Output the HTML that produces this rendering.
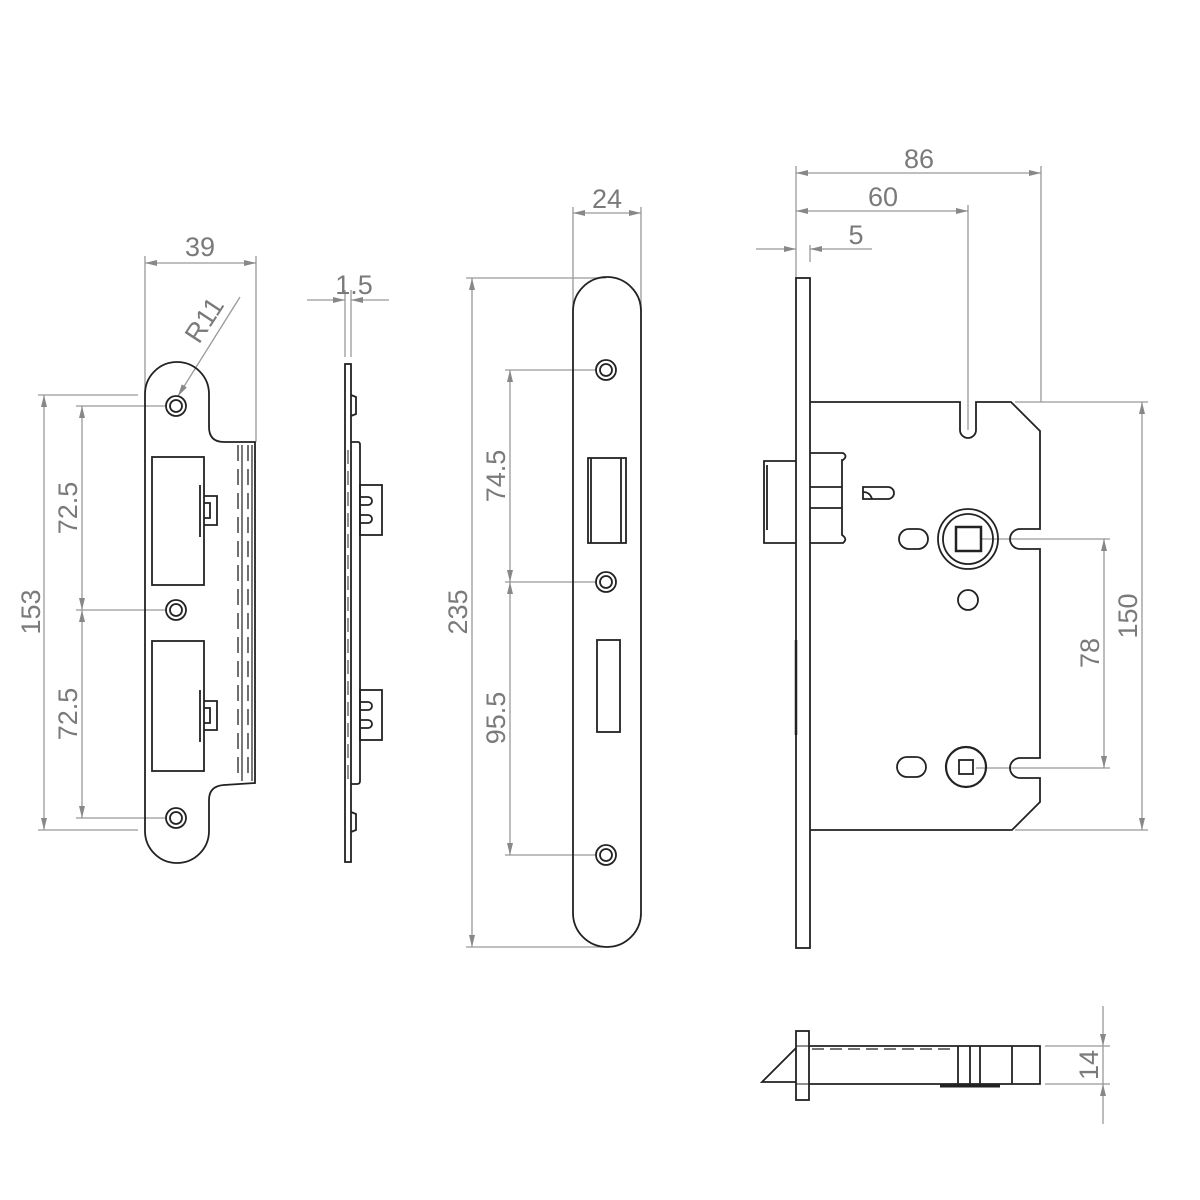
<!DOCTYPE html>
<html><head><style>body{margin:0;background:#fff}svg{display:block}</style></head><body>
<svg width="1200" height="1200" viewBox="0 0 1200 1200" xmlns="http://www.w3.org/2000/svg">
<defs>
<marker id="a" viewBox="0 0 12 6" refX="12" refY="3" markerWidth="12" markerHeight="6" orient="auto-start-reverse" markerUnits="userSpaceOnUse"><path d="M0,0 L12,3 L0,6z" fill="#888"/></marker>
</defs>
<g fill="none" stroke="#999" stroke-width="1.3">
<!-- 39 -->
<line x1="145" y1="256" x2="145" y2="392"/><line x1="256" y1="256" x2="256" y2="442"/>
<line x1="145" y1="263" x2="256" y2="263" marker-start="url(#a)" marker-end="url(#a)"/>
<line x1="178" y1="396" x2="240" y2="297" marker-start="url(#a)"/>
<!-- 153 / 72.5 -->
<line x1="38" y1="395" x2="138" y2="395"/><line x1="38" y1="830" x2="138" y2="830"/>
<line x1="44" y1="395" x2="44" y2="830" marker-start="url(#a)" marker-end="url(#a)"/>
<line x1="76" y1="406" x2="166" y2="406"/><line x1="76" y1="610" x2="166" y2="610"/><line x1="76" y1="818" x2="166" y2="818"/>
<line x1="82" y1="406" x2="82" y2="610" marker-start="url(#a)" marker-end="url(#a)"/>
<line x1="82" y1="610" x2="82" y2="818" marker-start="url(#a)" marker-end="url(#a)"/>
<!-- 1.5 -->
<line x1="345" y1="290" x2="345" y2="357"/><line x1="351" y1="290" x2="351" y2="357"/>
<line x1="307" y1="300" x2="345" y2="300" marker-end="url(#a)"/><line x1="389" y1="300" x2="351" y2="300" marker-end="url(#a)"/>
<!-- 24 / 235 -->
<line x1="573" y1="207" x2="573" y2="310"/><line x1="641" y1="207" x2="641" y2="310"/>
<line x1="573" y1="213" x2="641" y2="213" marker-start="url(#a)" marker-end="url(#a)"/>
<line x1="466" y1="278" x2="606" y2="278"/><line x1="466" y1="947" x2="606" y2="947"/>
<line x1="472" y1="278" x2="472" y2="947" marker-start="url(#a)" marker-end="url(#a)"/>
<line x1="505" y1="370" x2="596" y2="370"/><line x1="505" y1="582" x2="596" y2="582"/><line x1="505" y1="855" x2="596" y2="855"/>
<line x1="510" y1="370" x2="510" y2="582" marker-start="url(#a)" marker-end="url(#a)"/>
<line x1="510" y1="582" x2="510" y2="855" marker-start="url(#a)" marker-end="url(#a)"/>
<!-- 86 60 5 -->
<line x1="796" y1="166" x2="796" y2="278"/><line x1="1041" y1="166" x2="1041" y2="402"/><line x1="968" y1="205" x2="968" y2="430"/>
<line x1="810" y1="245" x2="810" y2="262"/>
<line x1="796" y1="173" x2="1041" y2="173" marker-start="url(#a)" marker-end="url(#a)"/>
<line x1="796" y1="211" x2="968" y2="211" marker-start="url(#a)" marker-end="url(#a)"/>
<line x1="756" y1="249" x2="796" y2="249" marker-end="url(#a)"/><line x1="872" y1="249" x2="810" y2="249" marker-end="url(#a)"/>
<!-- 150 78 -->
<line x1="1015" y1="402" x2="1148" y2="402"/><line x1="1015" y1="830" x2="1148" y2="830"/>
<line x1="1142" y1="402" x2="1142" y2="830" marker-start="url(#a)" marker-end="url(#a)"/>
<line x1="982" y1="539" x2="1110" y2="539"/><line x1="976" y1="768" x2="1110" y2="768"/>
<line x1="1104" y1="539" x2="1104" y2="768" marker-start="url(#a)" marker-end="url(#a)"/>
<!-- 14 -->
<line x1="1045" y1="1046" x2="1110" y2="1046"/><line x1="1045" y1="1084" x2="1110" y2="1084"/>
<line x1="1103" y1="1006" x2="1103" y2="1046" marker-end="url(#a)"/><line x1="1103" y1="1124" x2="1103" y2="1084" marker-end="url(#a)"/>
<line x1="1103" y1="1046" x2="1103" y2="1084"/>
</g>
<g fill="#7a7a7a" font-family="Liberation Sans, sans-serif" font-size="27" text-anchor="middle">
<text x="200" y="256">39</text>
<text x="0" y="0" transform="translate(212,325) rotate(-57)">R11</text>
<text x="354" y="294">1.5</text>
<text x="607" y="208">24</text>
<text x="919" y="168">86</text>
<text x="883" y="206">60</text>
<text x="856" y="244">5</text>
<text transform="translate(40,612) rotate(-90)">153</text>
<text transform="translate(77,508) rotate(-90)">72.5</text>
<text transform="translate(77,714) rotate(-90)">72.5</text>
<text transform="translate(467,612) rotate(-90)">235</text>
<text transform="translate(505,476) rotate(-90)">74.5</text>
<text transform="translate(505,718) rotate(-90)">95.5</text>
<text transform="translate(1137,616) rotate(-90)">150</text>
<text transform="translate(1099,653) rotate(-90)">78</text>
<text transform="translate(1098,1065) rotate(-90)">14</text>
</g>
<g fill="none" stroke="#222" stroke-width="1.8">
<!-- strike plate -->
<path d="M145,394 A32,32 0 0 1 209,394 L209,427 Q209,442 224,442 L255,442 L255,783 L224,785 Q209,786 209,800 L209,831 A32,32 0 0 1 145,831 Z"/>
<circle cx="176" cy="406" r="10"/><circle cx="176" cy="406" r="6"/>
<circle cx="176" cy="610" r="10"/><circle cx="176" cy="610" r="6"/>
<circle cx="176" cy="818" r="10"/><circle cx="176" cy="818" r="6"/>
<rect x="152" y="457" width="52" height="128"/><rect x="152" y="641" width="52" height="130"/>
<path d="M200,485 L200,537 M204,496 L217,496 L217,525 L204,525 M204,503 L210,503 L210,518 L204,518"/>
<path d="M200,690 L200,742 M204,701 L217,701 L217,730 L204,730 M204,708 L210,708 L210,723 L204,723"/>
<line x1="252" y1="445" x2="252" y2="781" stroke-width="1.2"/>
<line x1="242" y1="445" x2="242" y2="781" stroke-width="1.2"/>
<line x1="238" y1="445" x2="238" y2="781" stroke-width="1.3" stroke-dasharray="16,8"/>
<line x1="248" y1="445" x2="248" y2="781" stroke-width="1.3" stroke-dasharray="16,8"/>
<!-- side plate -->
<rect x="345" y="364" width="6" height="498"/>
<path d="M351,442 L358,442 Q360,442 360,445 L360,781 Q360,784 357,784 L351,784"/>
<path d="M351,395 L356,397 L356,414 L351,416 M351,812 L356,814 L356,830 L351,832"/>
<line x1="348" y1="450" x2="348" y2="780" stroke-width="1" stroke-dasharray="14,7"/>
<rect x="360" y="485" width="22" height="50"/><rect x="360" y="690" width="22" height="50"/>
<path d="M360,497 h8 a4,4 0 0 1 0,8 h-8 M360,515 h8 a4,4 0 0 1 0,8 h-8 M360,702 h8 a4,4 0 0 1 0,8 h-8 M360,720 h8 a4,4 0 0 1 0,8 h-8"/>
<!-- faceplate -->
<path d="M573,311 A34,34 0 0 1 641,311 L641,913 A34,34 0 0 1 573,913 Z"/>
<circle cx="606" cy="370" r="10"/><circle cx="606" cy="370" r="6"/>
<circle cx="606" cy="582" r="10"/><circle cx="606" cy="582" r="6"/>
<circle cx="606" cy="855" r="10"/><circle cx="606" cy="855" r="6"/>
<rect x="588" y="458" width="38" height="85"/><path d="M621,458 L621,543 M591,458 L591,543"/>
<rect x="597" y="640" width="23" height="92"/>
<!-- lock body -->
<rect x="796" y="278" width="14" height="670"/>
<path d="M810,402 L960,402 L960,430 A8,8 0 0 0 976,430 L976,402 L1011,402 L1040,431 L1040,529 L1020,529 A10,10 0 0 0 1020,549 L1040,549 L1040,758 L1020,758 A10,10 0 0 0 1020,778 L1040,778 L1040,802 L1012,830 L810,830"/>
<path d="M796,461 L764,461 L764,543 L796,543 M767,465 L767,530"/>
<path d="M810,453 L843,453 Q848,456 843,460 L842,460 L842,535 Q848,539 843,543 L810,543 M810,487 L842,487 M810,508 L842,508"/>
<path d="M863,487 L888,487 A6,6 0 0 1 888,499 L863,499 Z M863,492 Q870,492 872,499"/>
<circle cx="968" cy="539" r="30"/><circle cx="968" cy="539" r="25"/><rect x="956" y="527" width="25" height="24" stroke-width="2.5"/>
<circle cx="968" cy="600" r="10"/>
<rect x="899" y="529" width="29" height="20" rx="10"/>
<circle cx="966" cy="767" r="20" stroke-width="2.2"/><rect x="959" y="760" width="14" height="14"/>
<rect x="897" y="757" width="29" height="20" rx="10"/>
<line x1="796" y1="640" x2="796" y2="735" stroke-width="2.5"/>
<!-- bottom view -->
<rect x="796" y="1031" width="13" height="69"/><line x1="796" y1="1046" x2="809" y2="1046" stroke-width="1"/><line x1="796" y1="1084" x2="809" y2="1084" stroke-width="1"/>
<path d="M809,1046 L1040,1046 L1040,1084 L809,1084"/>
<line x1="812" y1="1049" x2="955" y2="1049" stroke-dasharray="12,6" stroke-width="1.3"/>
<path d="M796,1048 L762,1082 L796,1082"/>
<path d="M958,1046 L958,1084 M970,1046 L970,1084 M980,1046 L980,1084 M1012,1046 L1012,1084"/>
<line x1="940" y1="1086" x2="1000" y2="1086" stroke-width="3"/>
</g>
</svg>
</body></html>
